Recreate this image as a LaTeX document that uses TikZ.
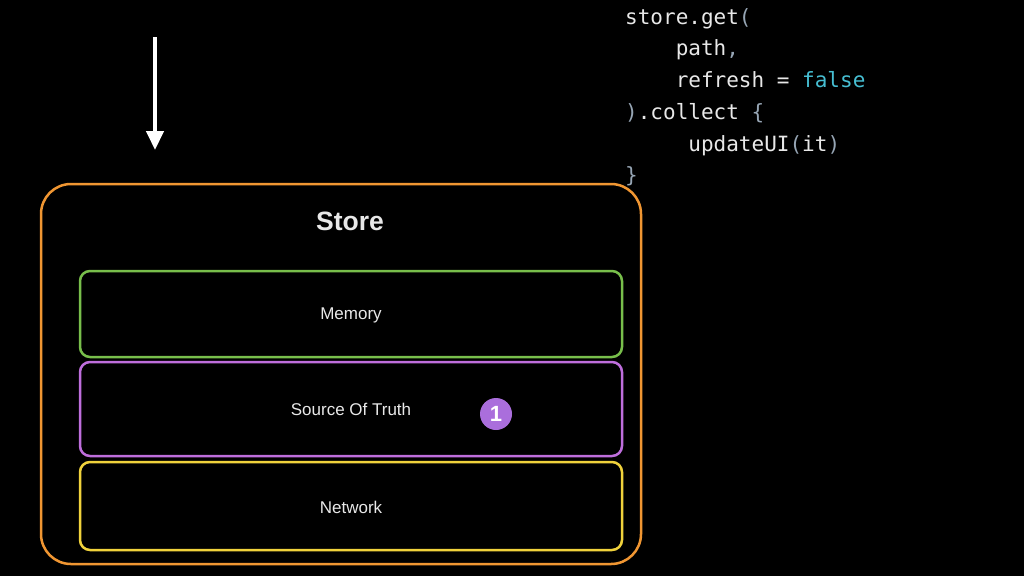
\documentclass[tikz,border=0pt]{standalone}
\usepackage{fontspec}
\setmainfont{Liberation Sans}
\newfontfamily\codefont{DejaVu Sans Mono}
\usetikzlibrary{positioning,arrows.meta}

\definecolor{storeorange}{RGB}{240,150,50}
\definecolor{memgreen}{RGB}{120,190,75}
\definecolor{sotpurple}{RGB}{190,110,220}
\definecolor{netyellow}{RGB}{240,210,60}
\definecolor{badgepurple}{RGB}{170,110,220}
\definecolor{codewhite}{RGB}{232,232,232}
\definecolor{codegray}{RGB}{150,165,180}
\definecolor{codeteal}{RGB}{70,190,210}

\tikzset{
    layer/.style={draw=#1, line width=2.5pt, rounded corners=10pt},
    layerlabel/.style={text=codewhite, font=\fontsize{17}{20}\selectfont},
    codeline/.style={anchor=base west, inner sep=0pt, text=codewhite, font=\codefont\fontsize{21}{25}\selectfont},
}

\begin{document}
\begin{tikzpicture}[x=1pt, y=-1pt]
    \fill[black] (0,0) rectangle (1024,576);
    \useasboundingbox (0,0) rectangle (1024,576);

    % Request arrow
    \coordinate (reqtop) at (155,37);
    \coordinate (reqend) at (155,150);
    \draw[white, line width=4.5pt, -{Triangle[width=17pt, length=19pt]}] (reqtop) -- (reqend);

    % Store container
    \draw[draw=storeorange, line width=2.5pt, rounded corners=30pt] (41,184) rectangle (641,564);
    \node[text=codewhite, font=\bfseries\fontsize{26.5}{31}\selectfont] (store) at (350,221) {Store};

    % Memory
    \draw[layer=memgreen] (80,271) rectangle (622,357);
    \node[layerlabel] (memory) at (351,315) {Memory};

    % Source Of Truth
    \draw[layer=sotpurple] (80,362) rectangle (622,456);
    \node[layerlabel] (sot) at (351,409) {Source Of Truth};
    \node[circle, fill=badgepurple, minimum size=32pt, inner sep=0pt, text=white,
          font=\bfseries\fontsize{22}{26}\selectfont] (badge) at (496,414) {1};

    % Network
    \draw[layer=netyellow] (80,462) rectangle (622,550);
    \node[layerlabel] (network) at (351,507) {Network};

    % Code snippet
    \node[codeline] (line1) at (625,24) {store.get\textcolor{codegray}{(}};
    \node[codeline] (line2) at (625,55.7) {\ \ \ \ path\textcolor{codegray}{,}};
    \node[codeline] (line3) at (625,87.4) {\ \ \ \ refresh = \textcolor{codeteal}{false}};
    \node[codeline] (line4) at (625,119) {\textcolor{codegray}{)}.collect \textcolor{codegray}{\{}};
    \node[codeline] (line5) at (625,151) {\ \ \ \ \ updateUI\textcolor{codegray}{(}it\textcolor{codegray}{)}};
    \node[codeline] (line6) at (625,182.7) {\textcolor{codegray}{\}}};
\end{tikzpicture}
\end{document}
